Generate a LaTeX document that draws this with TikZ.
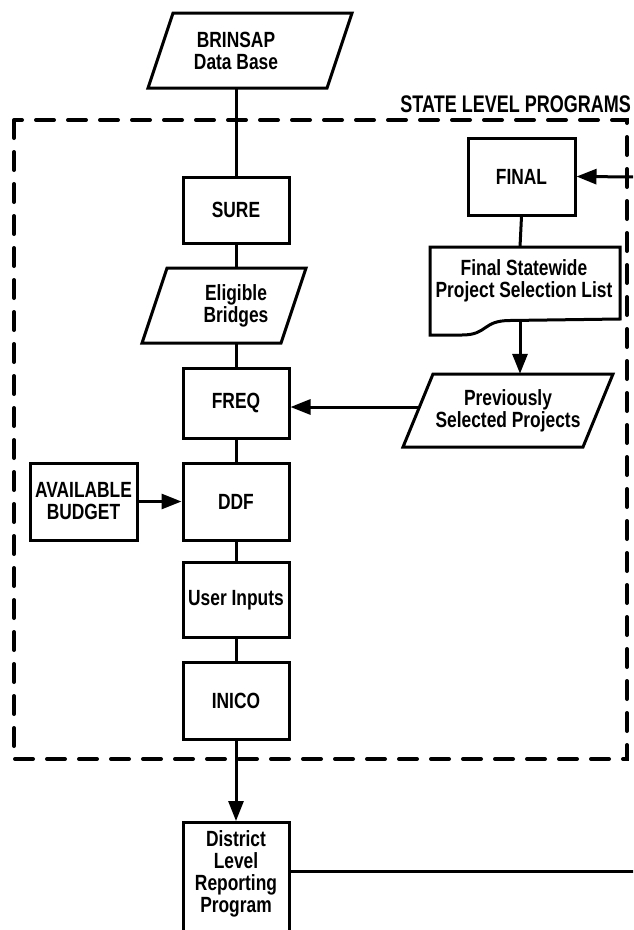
\documentclass[tikz,border=0pt]{standalone}
\usepackage{fontspec}
\newfontfamily\lab[FakeStretch=0.79]{Liberation Sans}
\newfontfamily\ttl[FakeStretch=0.75]{Liberation Sans}
\usetikzlibrary{arrows.meta,calc}
\tikzset{
  lbl/.style={font=\lab\bfseries\fontsize{22}{22}\selectfont, align=center, inner sep=0pt},
  box/.style={lbl, draw, line width=3pt, minimum width=106pt},
  outl/.style={line width=3pt, line join=miter},
  conn/.style={line width=3pt},
  arr/.style={line width=3pt, -{Triangle[length=20pt,width=15pt]}},
  dashbox/.style={line width=4pt, dash pattern=on 18pt off 14pt, line cap=round}
}
\begin{document}
\begin{tikzpicture}[x=1pt,y=-1pt]
\useasboundingbox (0,0) rectangle (633,930);
\clip (0,0) rectangle (633,930);
% state level frame
\draw[dashbox] (14,120) rectangle (627,759);
\node[font=\ttl\bfseries\fontsize{24}{24}\selectfont, inner sep=0pt, anchor=base east] (title) at (631,112) {STATE LEVEL PROGRAMS};
% BRINSAP
\node[lbl, minimum height=75pt] (brin) at (236,50.5) {BRINSAP\\Data Base};
\draw[outl] (173,13) -- (352,13) -- (327,88) -- (148,88) -- cycle;
% main column
\node[box, minimum height=66pt] (sure) at (236,210) {SURE};
\node[lbl, minimum height=75pt] (elig) at (236,305.5) {Eligible\\Bridges};
\draw[outl] (167,268) -- (306,268) -- (281,343) -- (142,343) -- cycle;
\node[box, minimum height=70pt] (freq) at (236,403) {FREQ};
\node[box, minimum height=77pt] (ddf) at (236,501.5) {DDF};
\node[box, minimum height=75pt] (ui) at (236,600) {User Inputs};
\node[box, minimum height=77pt] (inico) at (236,701) {INICO};
\node[box, minimum height=77pt, minimum width=107pt] (budget) at (83.5,501.5) {AVAILABLE\\BUDGET};
% district
\node[draw, line width=3pt, minimum width=106pt, minimum height=125pt, anchor=north, inner sep=0pt] (dist) at (236,821) {};
\node[lbl] (distt) at (236,874) {District\\Level\\Reporting\\Program};
% right side
\node[box, minimum width=107pt, minimum height=77pt] (final) at (521.5,176.5) {FINAL};
\coordinate (doctop) at (520,247);
\coordinate (docbot) at (520,320.5);
\draw[outl] (430,247) -- (620,247) -- (620,319) -- (510,320.5)
  .. controls (482,320.5) and (488,335) .. (462,335) -- (430,335) -- cycle;
\node[lbl] (doct) at (524,281) {Final Statewide\\Project Selection List};
\node[lbl, minimum height=73pt] (prev) at (508,410.5) {Previously\\Selected Projects};
\draw[outl] (433,374) -- (613,374) -- (583,447) -- (403,447) -- cycle;
\coordinate (prevw) at (419,407);
\coordinate (finin) at (640,177);
\coordinate (distout) at (640,871);
% connectors
\draw[conn] (brin.south) -- (sure.north);
\draw[conn] (sure.south) -- (elig.north);
\draw[conn] (elig.south) -- (freq.north);
\draw[conn] (freq.south) -- (ddf.north);
\draw[conn] (ddf.south) -- (ui.north);
\draw[conn] (ui.south) -- (inico.north);
\draw[arr] (inico.south) -- (dist.north);
\draw[arr] (budget.east) -- (ddf.west);
\draw[arr] (finin) -- (final.east);
\draw[conn] (final.south) -- (doctop);
\draw[arr] (docbot) -- (prev.north -| docbot);
\draw[arr] (prevw) -- (prevw -| freq.east);
\draw[conn] (distout -| dist.east) -- (distout);
\end{tikzpicture}
\end{document}
